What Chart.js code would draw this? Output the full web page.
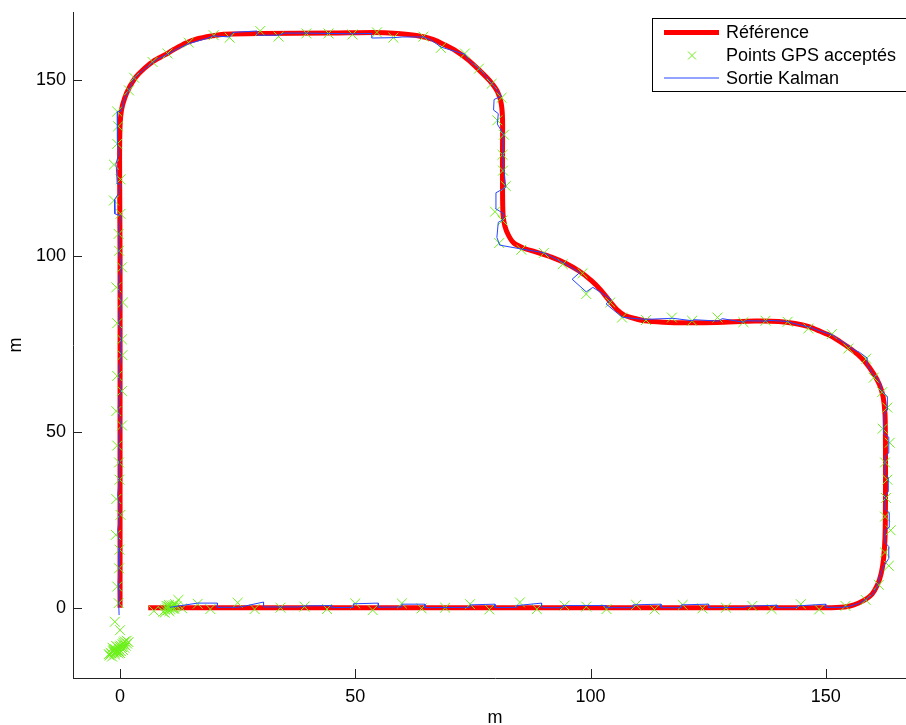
<!DOCTYPE html>
<html>
<head>
<meta charset="utf-8">
<script src="https://cdn.jsdelivr.net/npm/chart.js@4/dist/chart.umd.min.js"></script>
<style>
    html, body { margin: 0; padding: 0; background: #fff; overflow: hidden; }
    canvas { display: block; }
</style>
</head>
<body>
<canvas id="chart" width="925" height="729"></canvas>
<script>
// Trajectory data (metres)
const seriesLabels = ['Référence', 'Points GPS acceptés', 'Sortie Kalman'];

const refX = [6, 50, 100, 150, 154, 156, 158, 159.8, 161, 161.8, 162.3, 162.6, 162.7, 162.7, 162.6, 162.2, 161.4, 160.2, 158.5, 156.8,
    154.9, 153, 151.2, 148.8, 146.4, 143.5, 140, 135, 127, 120, 115.4, 111.5, 109.2, 107.2, 105.6, 104, 102.2, 100.2, 97.5, 94.8,
    91.7, 88.5, 85.7, 83.7, 82.6, 81.8, 81.4, 81.3, 81.3, 81.3, 81, 80.2, 78.6, 76.4, 73.8, 71.3, 69.1, 66.5, 63, 59,
    54, 45, 30, 22, 19.5, 16.5, 14, 11.5, 9.5, 7.2, 5.2, 3.3, 2, 1, 0.3, 0, -0.1, 0, 0, 0];
const refY = [0, 0, 0, 0, 0.2, 0.8, 2, 3.8, 6.5, 9.8, 14, 20, 30, 45, 55, 60, 63.5, 66.5, 69.7, 72,
    74, 75.7, 77.2, 78.6, 79.9, 80.8, 81.4, 81.5, 81.1, 81, 81.2, 81.6, 82.3, 83.2, 84.8, 87.3, 90.3, 93, 95.8, 97.9,
    99.7, 101.1, 102.3, 103.7, 105.8, 108.5, 112, 120, 130, 139, 143.5, 146.8, 149.8, 152.8, 156, 158.4, 160, 161.6, 162.7, 163.3,
    163.6, 163.4, 163.3, 163.1, 162.6, 161.8, 160.6, 158.8, 157.2, 155.5, 153.4, 150.8, 148, 145, 141.5, 137, 127, 100, 50, 0];

const gpsX = [-2.2, -1.8, -1.5, -1.2, -1, -0.7, -0.5, -0.2, 0.1, 0.4, 0.7, 1, 1.4, -1.6, 0.2, -0.4, 1.2,
    -2, -1.4, -0.9, -0.3, 0.3, 0.9, -1.1, -0.1, 0.6, -1.7, 0.0, 1.5, -0.8, 0.5, -1.3, 0.8, -2.4, 1.8,
    9.2, 9.6, 10, 10.3, 10.7, 11, 11.3, 11.7, 12, 10.5, 9.9, 11.5, 10.2, 10.8, 11.1, 9.5, 10.4, 11.4,
    7.2, 12.4, 13.2,
    16.5, 19.2, 25, 28.6, 34.1, 39.2, 44, 50, 53.7, 59.9, 64.1, 69.1, 74.4, 78.5, 85, 88.6, 94.5, 99.1, 103.4,
    109.7, 113.6, 119.6, 123.8, 128.8, 134.4, 138.5, 144.7, 148.6, 154.2, 158.5, 161.3, 163.4, 162.6,
    163.8, 162.6, 162.8, 163.1, 162.6, 163.6, 162.1, 163.1, 162, 160.2, 158.6, 154.8, 151.3, 146.3, 141.9,
    137.2, 132.5, 127, 121.6, 117.3, 111.8, 106.7, 104.2, 99.1, 98.3, 94.1, 90.1, 85.3, 80.6,
    81.3, 79.7, 82, 81.4, 81.3, 81.6, 80.2, 81.1, 79, 76.3, 73.3, 68.2, 64.5, 58.1, 54.6, 49.4, 44.3, 39.6,
    33.7, 29.8, 23.3, 19.9, 14.6, 10.1, 6.9, 3, 1.9, -0.6, -0.4, -0.6,
    -1.3, 0.1, -1.3, 0.1, -0.3, -0.2, 0.4, -0.8, 0.6, -0.6, 0.4, 0.5, -0.6, 0.4, -0.8, 0.4, -0.6, -0.2,
    -0.1, -0.8, 0.1, -0.9, -0.1, -0.2, -0.6, -0.3, -1.1, 0];
const gpsY = [-13.6, -13, -12.4, -12.8, -11.8, -12.2, -11.3, -11.8, -10.8, -11.2, -10.3, -9.6, -9.4, -11.4, -12.4, -13, -10.8,
    -12.9, -12.1, -12.6, -12.3, -11.6, -11.4, -13.3, -11.1, -12, -13.9, -12.9, -10.2, -10.9, -10.5, -11.9, -9.9, -13.2, -9.8,
    -1.2, -0.6, -0.2, 0.3, -0.4, 0.6, 0.1, 1, 0.4, -1, 0.5, -0.3, -0.7, 0.1, -0.1, -1.4, 0.8, 0.7,
    -0.9, 2.2, -0.2,
    1.1, -0.4, 1.4, -0.4, 0, 0.3, -0.4, 1.2, -0.7, 1.2, -0.2, 0, 1, -0.5, 1.5, -0.4, 0.6, 0.3, -0.4,
    0.8, -0.5, 0.8, -0.2, 0, 0.5, -0.4, 1, -0.5, 0.5, 2.2, 6.5, 11.9, 15.7,
    22, 25.9, 31.2, 36.4, 41.3, 46.9, 50.9, 56.9, 61.3, 65.4, 70.8, 73.7, 77.8, 79.4, 81.3,
    81.6, 81.2, 82.5, 81.6, 82.5, 81.8, 82.5, 86.8, 89.2, 95.1, 97.7, 100.9, 101.8, 103.7,
    110.1, 112.6, 119.9, 124.3, 128.8, 134.5, 138.6, 145, 149, 153.3, 157.6, 159.2, 162.4, 162.1, 163.6, 163, 163.3, 163.3,
    162.4, 164, 162.1, 162.8, 160.7, 157.6, 155.2, 150.7, 147.1, 141.1, 136.9, 131.9,
    126, 121.8, 115.8, 112, 106.3, 101.5, 96.8, 91.1, 86.8, 80.9, 76.3, 71.8, 65.9, 61.6, 55.9, 51.8, 46.1, 41.3,
    36.4, 30.9, 26.4, 20.7, 16.5, 11.2, 6, 1.3, -4, -6.4];

const kalmanX = [10.6, 13, 16.5, 20.7, 20.7, 25, 26, 30.5, 30.5, 38, 39.2, 45, 45, 49.6, 49.6, 54.9, 54.9, 59.9, 59.9, 64.8,
    64.8, 74.4, 74.4, 79.7, 79.7, 84.3, 84.3, 89.6, 89.6, 94.1, 94.1, 103.3, 103.3, 109, 109, 115, 115, 119.3, 119.3, 125.1,
    125.1, 133, 133, 139.7, 139.7, 144, 144, 150, 150, 153.5, 155, 157, 158.5, 160, 161, 161.7, 162.4, 163.4, 163.4, 162.6,
    162.6, 163.6, 163.5, 162.6, 162.7, 163.3, 163.3, 162.6, 162.6, 163.4, 163.4, 162.3, 162.4, 163.2, 163.1, 162, 161.4, 160, 158.8, 158.8,
    157.2, 155.4, 154.8, 152.5, 151.4, 149, 146.5, 143, 141.9, 138, 137.5, 133, 132.5, 128, 127.2, 122, 121.6, 117.5, 112, 109.6,
    106.8, 105.2, 103.3, 104.4, 100.5, 99.1, 96.1, 97.7, 94.1, 89.9, 85.3, 80.7, 80.1, 80.4, 81.3, 81.6, 79.8, 79.9, 82, 81.6,
    81.3, 81.6, 80.2, 80.4, 79.4, 79.5, 81, 79.4, 77.5, 76.2, 74, 73.3, 70, 68.3, 66, 64.5, 60, 58.1, 53.5, 53.5,
    49.4, 44.3, 39.6, 35, 33.7, 29.2, 29.1, 24, 23.3, 19.9, 18.5, 14.6, 12, 10.1, 8, 6.9, 5, 3, 1.9, 0.9,
    0.3, -0.6, -0.5, -0.6, -0.3, -0.9, -0.8, -0.6, 0.1, -0.2, -1.2, -1.1, 0.1, -0.2, -0.3, 0.3, -0.4, 0.3, -0.3, 0.3,
    0.3, -0.3, 0.2, -0.4, 0.2, -0.3, -0.1, -0.1, -0.5, 0, -0.5, -0.1, -0.2, -0.4, -0.3, -0.2];
const kalmanY = [0.1, 0.6, 1.3, 1.3, 0.1, 0.1, 0.3, 1.6, 0.2, 0.2, 0.5, 0.6, 0, 0.1, 1.1, 1.3, 0.1, 0.2, 1, 1,
    0, 0.1, 0.8, 1, 0, 0.1, 0.6, 1.3, 0, 0, 0.6, 0.6, 0, 0, 0.8, 1, 0, 0, 0.8, 1,
    0, 0.1, 0.4, 0.7, 0, 0, 0.5, 1, 0.1, 0.1, 0.4, 1.2, 2.3, 3.8, 6.2, 9.9, 12, 14, 17.4, 18.5,
    22, 23, 27, 28, 32, 33, 37, 38, 43, 44, 48.5, 49.5, 55, 56.5, 60, 61.5, 64.5, 66.5, 69.2, 71,
    72.6, 73.8, 74.6, 76.5, 77.6, 78.6, 79.8, 80.9, 81.4, 81.7, 81.5, 81.6, 81.2, 82.2, 81.5, 81.9, 81.6, 82.3, 82, 82.2,
    82.6, 84.3, 86.4, 87.7, 91.1, 89.8, 93.4, 95.3, 98.2, 101, 102, 103.1, 105.3, 109.6, 110.2, 112, 113.5, 118, 119.5, 124.5,
    129, 134.5, 137.5, 140.5, 141.5, 144.5, 145.5, 148.5, 151.5, 153.4, 155.8, 157.4, 158.7, 159.4, 161.5, 162.3, 162.3, 162.1, 162, 163.3,
    163.2, 163.3, 163.4, 163.4, 162.8, 162.8, 164, 163.6, 162.3, 162.6, 161.9, 160.4, 158.8, 157.4, 156, 155, 153, 150.6, 147.3, 144.5,
    141.3, 141, 137, 132, 129, 126, 125.5, 120.5, 120.5, 118, 116, 112, 111.5, 107, 102, 97, 92, 87, 82, 77,
    72, 67, 62, 57, 52, 47, 42, 37, 32, 27, 22, 17, 12, 7, 2, -2.1];

const xTicks = [0, 50, 100, 150];
const yTicks = [0, 50, 100, 150];

const FONT = "'Liberation Sans', Arial, sans-serif";

const toPoints = (xs, ys) => xs.map((x, i) => ({ x: x, y: ys[i] }));

// Inward tick marks on the left and bottom axes
const innerTicks = {
    id: 'innerTicks',
    afterDraw(chart) {
        const { ctx, chartArea, scales } = chart;
        ctx.save();
        ctx.strokeStyle = '#222';
        ctx.lineWidth = 1;
        ctx.beginPath();
        xTicks.forEach(v => {
            const px = Math.round(scales.x.getPixelForValue(v)) + 0.5;
            ctx.moveTo(px, chartArea.bottom);
            ctx.lineTo(px, chartArea.bottom - 9);
        });
        yTicks.forEach(v => {
            const py = Math.round(scales.y.getPixelForValue(v)) + 0.5;
            ctx.moveTo(chartArea.left, py);
            ctx.lineTo(chartArea.left + 9, py);
        });
        ctx.stroke();
        ctx.restore();
    }
};

// Boxed legend in the upper right corner
const boxLegend = {
    id: 'boxLegend',
    afterDraw(chart) {
        const ctx = chart.ctx;
        const left = 652.5, top = 18.5, right = 913.5, bottom = 91.5;
        const rowY = [32.5, 55.5, 78];
        ctx.save();
        ctx.fillStyle = '#fff';
        ctx.fillRect(left, top, right - left, bottom - top);
        ctx.strokeStyle = '#000';
        ctx.lineWidth = 1;
        ctx.strokeRect(left, top, right - left, bottom - top);
        chart.data.datasets.forEach((ds, i) => {
            const y = rowY[i];
            if (ds.showLine) {
                ctx.strokeStyle = ds.borderColor;
                ctx.lineWidth = ds.borderWidth;
                ctx.beginPath();
                ctx.moveTo(664, y);
                ctx.lineTo(719, y);
                ctx.stroke();
            } else {
                ctx.strokeStyle = ds.pointBorderColor;
                ctx.lineWidth = 1;
                ctx.beginPath();
                ctx.moveTo(688, y - 4);
                ctx.lineTo(696, y + 4);
                ctx.moveTo(696, y - 4);
                ctx.lineTo(688, y + 4);
                ctx.stroke();
            }
            ctx.fillStyle = '#000';
            ctx.font = '18px ' + FONT;
            ctx.textBaseline = 'middle';
            ctx.textAlign = 'left';
            ctx.fillText(ds.label, 726, y + 1);
        });
        ctx.restore();
    }
};

// Create chart
const ctx = document.getElementById('chart').getContext('2d');
const chart = new Chart(ctx, {
    type: 'scatter',
    data: {
        datasets: [
            {
                label: seriesLabels[0],
                data: toPoints(refX, refY),
                showLine: true,
                borderColor: '#ff0000',
                borderWidth: 5,
                tension: 0.25,
                pointRadius: 0,
                order: 3
            },
            {
                label: seriesLabels[1],
                data: toPoints(gpsX, gpsY),
                showLine: false,
                pointStyle: 'crossRot',
                pointRadius: 7,
                pointBorderWidth: 1,
                pointBorderColor: '#6cf01a',
                pointBackgroundColor: '#6cf01a',
                order: 2
            },
            {
                label: seriesLabels[2],
                data: toPoints(kalmanX, kalmanY),
                showLine: true,
                borderColor: '#2546ff',
                borderWidth: 1,
                tension: 0,
                pointRadius: 0,
                order: 1
            }
        ]
    },
    options: {
        responsive: false,
        animation: false,
        layout: {
            padding: { left: 0, top: 12, right: 0, bottom: 0 }
        },
        plugins: {
            legend: { display: false },
            tooltip: { enabled: false }
        },
        scales: {
            x: {
                type: 'linear',
                min: -10,
                max: 169.4,
                afterBuildTicks: scale => { scale.ticks = xTicks.map(v => ({ value: v })); },
                afterFit: scale => {
                    scale.height = 51;
                    scale.paddingLeft = 0;
                    scale.paddingRight = 0;
                },
                grid: { display: false, drawTicks: false },
                border: { display: true, color: '#222', width: 1 },
                ticks: {
                    color: '#000',
                    padding: 8,
                    font: { family: FONT, size: 18 }
                },
                title: {
                    display: true,
                    text: 'm',
                    color: '#000',
                    padding: { top: 0, bottom: 0 },
                    font: { family: FONT, size: 18 }
                }
            },
            y: {
                type: 'linear',
                min: -20,
                max: 169.4,
                afterBuildTicks: scale => { scale.ticks = yTicks.map(v => ({ value: v })); },
                afterFit: scale => {
                    scale.width = 73;
                    scale.paddingTop = 0;
                    scale.paddingBottom = 0;
                },
                grid: { display: false, drawTicks: false },
                border: { display: true, color: '#222', width: 1 },
                ticks: {
                    color: '#000',
                    padding: 7,
                    font: { family: FONT, size: 18 }
                },
                title: {
                    display: true,
                    text: 'm',
                    color: '#000',
                    padding: { top: 5, bottom: 0 },
                    font: { family: FONT, size: 18 }
                }
            }
        }
    },
    plugins: [innerTicks, boxLegend]
});
</script>
</body>
</html>
